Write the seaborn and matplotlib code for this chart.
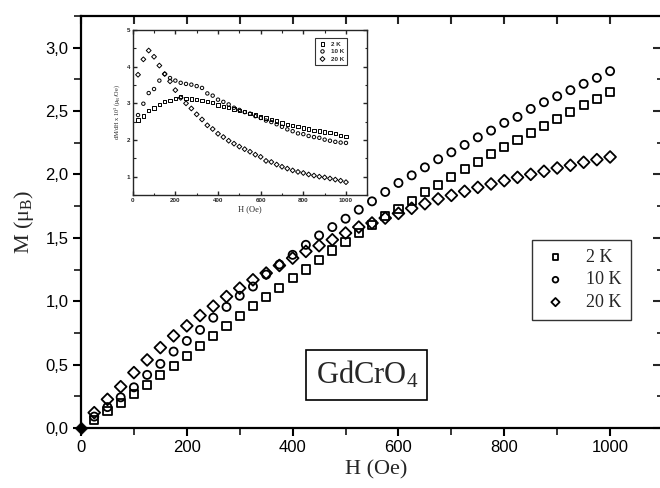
import matplotlib
matplotlib.use("Agg")
import matplotlib.pyplot as plt
import numpy as np
import pandas as pd
import seaborn as sns
from matplotlib.ticker import MultipleLocator, FuncFormatter

# ---------------- data ----------------
field_oe = [25, 50, 75, 100, 125, 150, 175, 200, 225, 250,
            275, 300, 325, 350, 375, 400, 425, 450, 475, 500,
            525, 550, 575, 600, 625, 650, 675, 700, 725, 750,
            775, 800, 825, 850, 875, 900, 925, 950, 975, 1000]

m_2k = [0.06, 0.135, 0.195, 0.266, 0.34, 0.419, 0.49, 0.571, 0.65, 0.727,
        0.806, 0.883, 0.96, 1.035, 1.107, 1.182, 1.25, 1.325, 1.40, 1.468,
        1.535, 1.60, 1.669, 1.731, 1.788, 1.859, 1.92, 1.98, 2.043, 2.101,
        2.162, 2.217, 2.275, 2.328, 2.385, 2.441, 2.493, 2.546, 2.596, 2.651]

m_10k = [0.09, 0.165, 0.242, 0.321, 0.419, 0.506, 0.603, 0.687, 0.774, 0.87,
         0.955, 1.043, 1.116, 1.21, 1.29, 1.366, 1.445, 1.519, 1.585, 1.651,
         1.722, 1.788, 1.862, 1.933, 1.993, 2.056, 2.12, 2.175, 2.233, 2.293,
         2.346, 2.407, 2.454, 2.517, 2.57, 2.617, 2.665, 2.715, 2.762, 2.815]

m_20k = [0.121, 0.226, 0.326, 0.437, 0.537, 0.634, 0.727, 0.806, 0.887, 0.961,
         1.037, 1.103, 1.169, 1.222, 1.282, 1.34, 1.393, 1.438, 1.485, 1.538,
         1.585, 1.617, 1.656, 1.693, 1.733, 1.769, 1.807, 1.835, 1.867, 1.898,
         1.925, 1.951, 1.977, 2.001, 2.025, 2.051, 2.072, 2.096, 2.117, 2.138]

origin_h = [0]
origin_m = [0]

# inset: dM/dH x 10^3 (muB/Oe)
d_2k = [2.55, 2.65, 2.80, 2.87, 2.97, 3.05, 3.08, 3.13, 3.18, 3.13,
        3.12, 3.10, 3.08, 3.05, 3.03, 2.95, 2.92, 2.88, 2.85, 2.80,
        2.77, 2.73, 2.68, 2.63, 2.60, 2.56, 2.52, 2.46, 2.43, 2.40,
        2.37, 2.33, 2.30, 2.26, 2.24, 2.22, 2.20, 2.17, 2.13, 2.10]

d_10k = [2.68, 2.99, 3.28, 3.39, 3.62, 3.80, 3.69, 3.62, 3.56, 3.53,
         3.51, 3.47, 3.42, 3.27, 3.21, 3.10, 3.04, 2.97, 2.88, 2.82,
         2.76, 2.72, 2.65, 2.60, 2.53, 2.49, 2.43, 2.36, 2.29, 2.24,
         2.18, 2.16, 2.11, 2.08, 2.06, 2.01, 1.98, 1.95, 1.93, 1.92]

d_20k = [3.78, 4.20, 4.44, 4.27, 4.03, 3.80, 3.60, 3.36, 3.15, 3.00,
         2.86, 2.70, 2.56, 2.40, 2.30, 2.17, 2.08, 1.98, 1.90, 1.82,
         1.75, 1.68, 1.60, 1.54, 1.43, 1.40, 1.33, 1.27, 1.22, 1.17,
         1.13, 1.10, 1.06, 1.03, 1.00, 0.98, 0.95, 0.92, 0.89, 0.85]

labels = ["2 K", "10 K", "20 K"]
main_xticks = [0, 200, 400, 600, 800, 1000]
main_yticks = [0.0, 0.5, 1.0, 1.5, 2.0, 2.5, 3.0]
inset_xticks = [0, 200, 400, 600, 800, 1000]
inset_yticks = [1, 2, 3, 4, 5]

# ---------------- style ----------------
sns.set_style("ticks")
plt.rcParams["font.family"] = ["Liberation Sans", "DejaVu Sans"]
plt.rcParams["mathtext.fontset"] = "custom"
plt.rcParams["mathtext.rm"] = "Liberation Serif"
plt.rcParams["mathtext.it"] = "Liberation Serif:italic"
plt.rcParams["mathtext.bf"] = "Liberation Sans:bold"
SERIF = ["Liberation Serif", "DejaVu Serif"]

fig = plt.figure(figsize=(6.6, 4.88), dpi=100)
ax = fig.add_axes([81 / 660, 1 - 428 / 488, 582 / 660, 412 / 488])

markers = ["s", "o", "D"]
sizes = [34, 34, 36]
series = [m_2k, m_10k, m_20k]
for lab, vals, mk, sz in zip(labels, series, markers, sizes):
    sns.scatterplot(x=field_oe, y=vals, marker=mk, s=sz, facecolor="none",
                    edgecolor="black", linewidth=1.3, label=lab, ax=ax,
                    zorder=3)
sns.scatterplot(x=origin_h, y=origin_m, marker="D", s=40, color="black",
                edgecolor="black", ax=ax, clip_on=False, zorder=4)

ax.set_xlim(0, 1100)
ax.set_ylim(0, 3.25)
ax.set_xticks(main_xticks)
ax.set_yticks(main_yticks)
ax.xaxis.set_minor_locator(MultipleLocator(100))
ax.yaxis.set_minor_locator(MultipleLocator(0.25))
ax.yaxis.set_major_formatter(FuncFormatter(lambda v, p: f"{v:.1f}".replace(".", ",")))
ax.tick_params(axis="both", which="major", direction="out", length=6, width=1.5,
               labelsize=12, pad=3, color="black", labelcolor="black")
ax.tick_params(axis="both", which="minor", direction="out", length=5, width=1.3)
for sp in ax.spines.values():
    sp.set_linewidth(1.6)
    sp.set_color("black")

# top / right ticks (inward, no labels)
axt = ax.secondary_xaxis("top")
axt.set_xticks([100 * i for i in range(0, 12)])
axt.tick_params(direction="in", length=6, width=1.5, labeltop=False)
axt.set_xticklabels([])
axr = ax.secondary_yaxis("right")
axr.set_yticks(main_yticks)
axr.yaxis.set_minor_locator(MultipleLocator(0.25))
axr.tick_params(which="major", direction="in", length=7, width=1.5)
axr.tick_params(which="minor", direction="in", length=4, width=1.3)
axr.set_yticklabels([])
for a in (axt, axr):
    for sp in a.spines.values():
        sp.set_visible(False)

ax.set_xlabel("")
ax.set_ylabel("")
fig.text(376 / 660, 1 - 470 / 488, "H (Oe)", family=SERIF, fontsize=16,
         ha="center", va="center")
fig.text(24 / 660, 1 - 222 / 488, "M (μ$_{\\mathrm{B}}$)", family=SERIF,
         fontsize=16, ha="center", va="center", rotation=90)

leg = ax.legend(loc="upper left", bbox_to_anchor=((532 - 81) / 582, (428 - 240) / 412),
                borderaxespad=0, frameon=True, fancybox=False, edgecolor="black",
                prop={"family": SERIF, "size": 13}, markerscale=0.7,
                handletextpad=0.9, labelspacing=0.3, borderpad=0.5, handlelength=1.6)
leg.get_frame().set_linewidth(1.0)

ax.text(540, 0.42, "GdCrO$_4$", family=SERIF, fontsize=22, ha="center",
        va="center", bbox=dict(boxstyle="square,pad=0.3", fc="white",
                               ec="black", lw=1.2), zorder=5)

# ---------------- inset ----------------
ins = fig.add_axes([132.7 / 660, 1 - 195 / 488, 234.6 / 660, 165 / 488])
for lab, vals, mk in zip(labels, [d_2k, d_10k, d_20k], ["s", "o", "D"]):
    sns.scatterplot(x=field_oe, y=vals, marker=mk, s=6 if mk != "D" else 6,
                    facecolor="none", edgecolor="black", linewidth=0.7,
                    label=lab, ax=ins, zorder=3)
ins.set_xlim(0, 1100)
ins.set_ylim(0.5, 5)
ins.set_xticks(inset_xticks)
ins.set_yticks(inset_yticks)
ins.xaxis.set_minor_locator(MultipleLocator(100))
ins.yaxis.set_minor_locator(MultipleLocator(0.5))
ins.tick_params(axis="both", which="major", direction="in", length=3, width=1.0,
                labelsize=4.5, pad=2, top=True, right=True)
ins.tick_params(axis="both", which="minor", direction="in", length=1.8, width=0.8,
                top=True, right=True)
for t in ins.get_xticklabels() + ins.get_yticklabels():
    t.set_fontweight("bold")
for sp in ins.spines.values():
    sp.set_linewidth(1.0)
ins.set_xlabel("H (Oe)", family=SERIF, fontsize=6, labelpad=2)
ins.set_ylabel("dM/dH x 10$^3$ (μ$_{\\mathrm{B}}$/Oe)", family=SERIF, fontsize=4.5,
               labelpad=3)
ileg = ins.legend(loc="upper left", bbox_to_anchor=(0.777, 0.9515), borderaxespad=0,
                  frameon=True, fancybox=False, edgecolor="black",
                  prop={"size": 4.5, "weight": "bold"}, markerscale=1.0,
                  handletextpad=0.6, labelspacing=0.35, borderpad=0.5, handlelength=1.4)
ileg.get_frame().set_linewidth(0.8)

fig.savefig("out.png", dpi=100)
